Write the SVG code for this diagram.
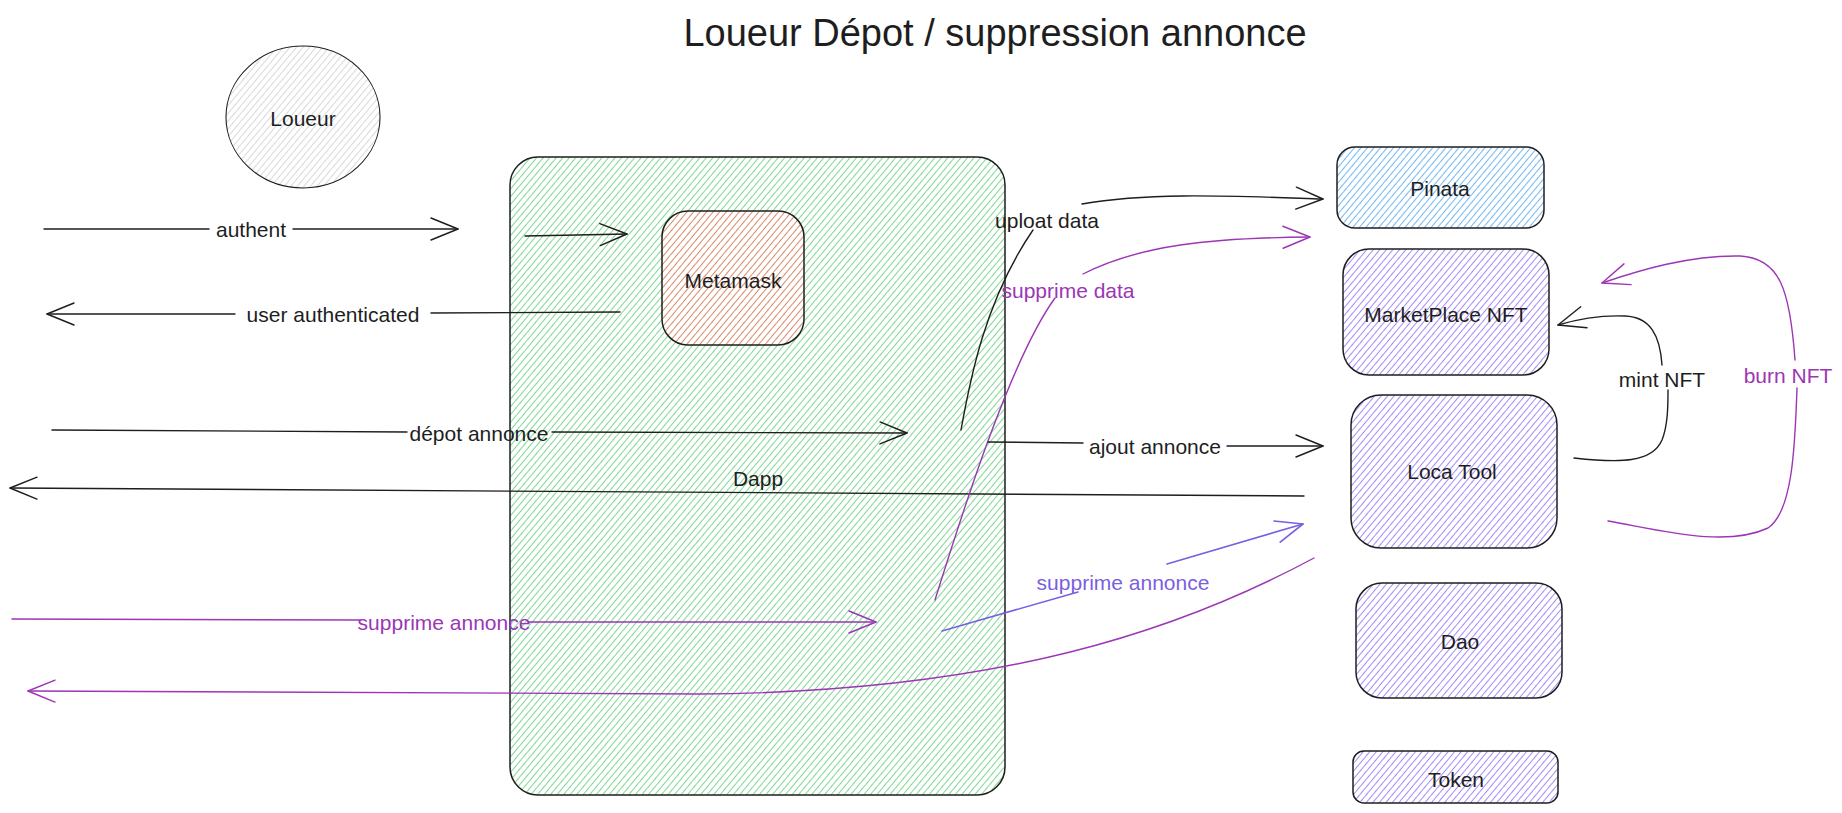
<svg xmlns="http://www.w3.org/2000/svg" width="1842" height="813" viewBox="0 0 1842 813">
<style>
  text { font-family: "Liberation Sans", Arial, sans-serif; font-size: 21px; fill: #1e1e1e; text-anchor: middle; dominant-baseline: central; }
  .title { font-size: 38px; }
  .purple { fill: #9c36b5; }
  .violet { fill: #7b5fe0; }
  .box { stroke: #1e1e1e; stroke-width: 1.5; }
  .bg { fill: #ffffff; stroke: none; }
  .c { fill: none; stroke: #1e1e1e; stroke-width: 1.4; stroke-linecap: round; }
  .cp { fill: none; stroke: #9c36b5; stroke-width: 1.4; stroke-linecap: round; }
  .cv { fill: none; stroke: #7b5fe0; stroke-width: 1.6; stroke-linecap: round; }
</style>
<defs>
  <pattern id="hG" patternUnits="userSpaceOnUse" width="5" height="8" patternTransform="rotate(40)"><line x1="2.5" y1="0" x2="2.5" y2="8" stroke="#7fd893" stroke-width="1"/></pattern>
  <pattern id="hR" patternUnits="userSpaceOnUse" width="5" height="8" patternTransform="rotate(40)"><line x1="2.5" y1="0" x2="2.5" y2="8" stroke="#d98a6c" stroke-width="1"/></pattern>
  <pattern id="hB" patternUnits="userSpaceOnUse" width="5" height="8" patternTransform="rotate(40)"><line x1="2.5" y1="0" x2="2.5" y2="8" stroke="#74b8f0" stroke-width="1"/></pattern>
  <pattern id="hP" patternUnits="userSpaceOnUse" width="5" height="8" patternTransform="rotate(40)"><line x1="2.5" y1="0" x2="2.5" y2="8" stroke="#a58cf5" stroke-width="1"/></pattern>
  <pattern id="hGr" patternUnits="userSpaceOnUse" width="5" height="8" patternTransform="rotate(40)"><line x1="2.5" y1="0" x2="2.5" y2="8" stroke="#d6d9dd" stroke-width="1"/></pattern>
  <marker id="aK" markerUnits="userSpaceOnUse" viewBox="-30 -15 32 30" refX="0" refY="0" markerWidth="32" markerHeight="30" orient="auto"><path d="M-27,-11 L0,0 L-27,11" fill="none" stroke="#1e1e1e" stroke-width="1.4" stroke-linecap="round" stroke-linejoin="round"/></marker>
  <marker id="aP" markerUnits="userSpaceOnUse" viewBox="-30 -15 32 30" refX="0" refY="0" markerWidth="32" markerHeight="30" orient="auto"><path d="M-27,-11 L0,0 L-27,11" fill="none" stroke="#9c36b5" stroke-width="1.4" stroke-linecap="round" stroke-linejoin="round"/></marker>
  <marker id="aV" markerUnits="userSpaceOnUse" viewBox="-30 -15 32 30" refX="0" refY="0" markerWidth="32" markerHeight="30" orient="auto"><path d="M-27,-11 L0,0 L-27,11" fill="none" stroke="#7b5fe0" stroke-width="1.6" stroke-linecap="round" stroke-linejoin="round"/></marker>
</defs>

<rect x="0" y="0" width="1842" height="813" fill="#ffffff"/>

<text class="title" x="995" y="33">Loueur Dépot / suppression annonce</text>

<g id="loueur">
  <ellipse cx="303" cy="117" rx="77" ry="71" fill="url(#hGr)" stroke="#1e1e1e" stroke-width="1.1"/>
  <text x="303" y="118">Loueur</text>
</g>

<g id="dapp">
  <rect x="510" y="157" width="495" height="638" rx="28" fill="url(#hG)" class="box"/>
  <text x="758" y="478">Dapp</text>
</g>

<g id="metamask">
  <rect x="662" y="211" width="142" height="134" rx="26" class="bg"/>
  <rect x="662" y="211" width="142" height="134" rx="26" fill="url(#hR)" class="box"/>
  <text x="733" y="280">Metamask</text>
</g>

<g id="pinata">
  <rect x="1337" y="147" width="207" height="81" rx="18" fill="url(#hB)" class="box"/>
  <text x="1440" y="188">Pinata</text>
</g>

<g id="marketplace">
  <rect x="1343" y="249" width="206" height="126" rx="26" fill="url(#hP)" class="box"/>
  <text x="1446" y="314">MarketPlace NFT</text>
</g>

<g id="locatool">
  <rect x="1351" y="395" width="206" height="153" rx="30" fill="url(#hP)" class="box"/>
  <text x="1452" y="471">Loca Tool</text>
</g>

<g id="dao">
  <rect x="1356" y="583" width="206" height="115" rx="26" fill="url(#hP)" class="box"/>
  <text x="1460" y="641">Dao</text>
</g>

<g id="token">
  <rect x="1353" y="751" width="205" height="52" rx="11" fill="url(#hP)" class="box"/>
  <text x="1456" y="779">Token</text>
</g>

<g id="connectors">
  <!-- authent -->
  <path class="c" d="M44,229 L209,229"/>
  <path class="c" d="M293,229 L458,229" marker-end="url(#aK)"/>
  <text x="251" y="229">authent</text>
  <!-- into metamask -->
  <path class="c" d="M525,236 L627,234" marker-end="url(#aK)"/>
  <!-- user authenticated -->
  <path class="c" d="M620,312 L431,313"/>
  <path class="c" d="M235,314 L47,314" marker-end="url(#aK)"/>
  <text x="333" y="314">user authenticated</text>
  <!-- depot annonce -->
  <path class="c" d="M52,430 L407,432"/>
  <path class="c" d="M552,432 L907,433" marker-end="url(#aK)"/>
  <text x="479" y="433">dépot annonce</text>
  <!-- Dapp return -->
  <path class="c" d="M1304,496 L10,488" marker-end="url(#aK)"/>
  <!-- supprime annonce (left) -->
  <path class="cp" d="M12,619 L360,620"/>
  <path class="cp" d="M528,622 L876,622" marker-end="url(#aP)"/>
  <text class="purple" x="444" y="622">supprime annonce</text>
  <!-- purple return -->
  <path class="cp" d="M1314,558 C1180,630 1000,692 700,694 L28,691" marker-end="url(#aP)"/>
  <!-- supprime annonce (violet) -->
  <path class="cv" d="M942,631 L1078,592"/>
  <path class="cv" d="M1167,564 L1303,524" marker-end="url(#aV)"/>
  <text class="violet" x="1123" y="582">supprime annonce</text>
  <!-- uploat data -->
  <path class="c" d="M961,430 C970,380 985,300 1033,230"/>
  <path class="c" d="M1082,204 C1150,192 1230,196 1323,199" marker-end="url(#aK)"/>
  <text x="1047" y="220">uploat data</text>
  <!-- supprime data -->
  <path class="cp" d="M935,600 C960,520 1010,360 1055,298"/>
  <path class="cp" d="M1083,274 C1140,245 1210,238 1310,237" marker-end="url(#aP)"/>
  <text class="purple" x="1068" y="290">supprime data</text>
  <!-- ajout annonce -->
  <path class="c" d="M988,442 L1083,443"/>
  <path class="c" d="M1227,446 L1323,446" marker-end="url(#aK)"/>
  <text x="1155" y="446">ajout annonce</text>
  <!-- mint NFT -->
  <path class="c" d="M1574,458 C1620,463 1652,463 1662,440 C1668,425 1668,405 1668,390"/>
  <path class="c" d="M1662,365 C1660,335 1650,317 1625,316 C1600,315 1578,319 1558,325" marker-end="url(#aK)"/>
  <text x="1662" y="379">mint NFT</text>
  <!-- burn NFT -->
  <path class="cp" d="M1608,521 C1660,530 1725,548 1768,528 C1792,512 1795,450 1797,388"/>
  <path class="cp" d="M1795,360 C1790,290 1780,258 1740,256 C1690,255 1640,270 1602,283" marker-end="url(#aP)"/>
  <text class="purple" x="1788" y="375">burn NFT</text>
</g>
</svg>
